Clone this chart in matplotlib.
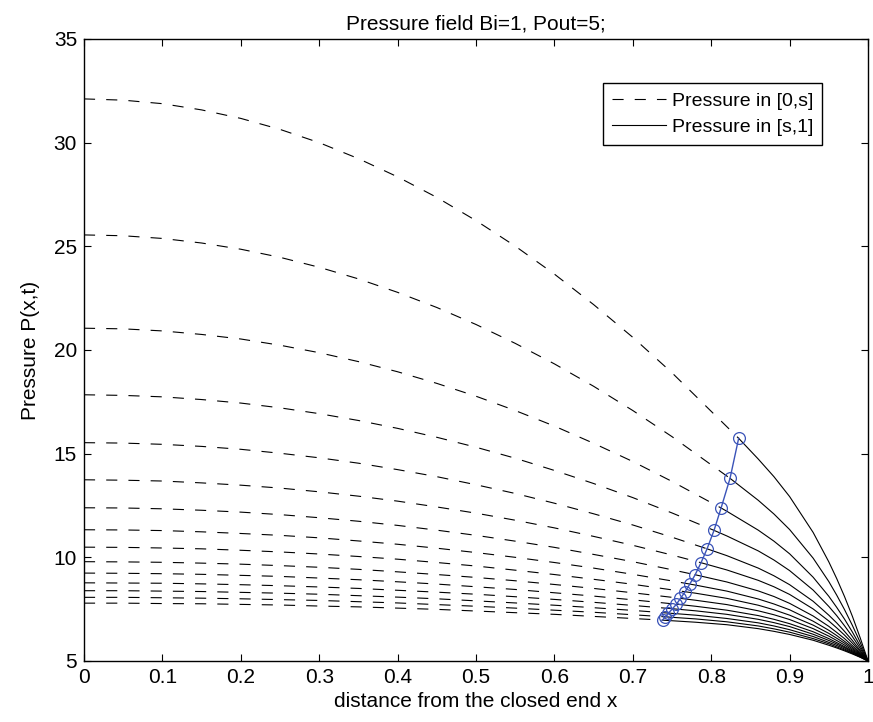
import matplotlib
matplotlib.use("Agg")
import matplotlib.pyplot as plt
import numpy as np

plt.rcParams['font.family'] = ['Liberation Sans', 'DejaVu Sans']
plt.rcParams['lines.scale_dashes'] = False

nan = np.nan

# dashed part, pressure in [0,s], read at fixed x
x_dash = [0.0, 0.05, 0.1, 0.15, 0.2, 0.25, 0.3, 0.35, 0.4, 0.45, 0.5, 0.55,
          0.6, 0.65, 0.7, 0.75]
p_dash = [
    [32.11, 32.05, 31.88, 31.58, 31.17, 30.64, 30.00, 29.23, 28.35, 27.36, 26.24, 25.01, 23.66, 22.19, 20.61, 18.90],
    [25.55, 25.51, 25.38, 25.16, 24.86, 24.47, 23.99, 23.43, 22.78, 22.05, 21.23, 20.32, 19.33, 18.25, 17.08, 15.82],
    [21.05, 21.02, 20.92, 20.75, 20.53, 20.23, 19.87, 19.44, 18.95, 18.39, 17.77, 17.08, 16.33, 15.50, 14.62, 13.66],
    [17.84, 17.81, 17.74, 17.61, 17.44, 17.21, 16.93, 16.60, 16.22, 15.79, 15.31, 14.78, 14.19, 13.56, 12.88, 12.14],
    [15.53, 15.51, 15.45, 15.35, 15.21, 15.02, 14.80, 14.54, 14.23, 13.89, 13.50, 13.08, 12.61, 12.10, 11.56, 10.97],
    [13.74, 13.72, 13.68, 13.59, 13.48, 13.34, 13.16, 12.95, 12.71, 12.43, 12.13, 11.79, 11.42, 11.01, 10.58, 10.11],
    [12.39, 12.38, 12.34, 12.27, 12.18, 12.06, 11.91, 11.74, 11.54, 11.31, 11.06, 10.78, 10.48, 10.14, 9.79, 9.40],
    [11.33, 11.32, 11.29, 11.23, 11.15, 11.06, 10.94, 10.79, 10.63, 10.44, 10.23, 10.00, 9.75, 9.48, 9.18, 8.86],
    [10.49, 10.48, 10.45, 10.41, 10.34, 10.26, 10.16, 10.04, 9.91, 9.75, 9.58, 9.38, 9.17, 8.94, 8.70, 8.43],
    [9.79, 9.78, 9.76, 9.72, 9.67, 9.60, 9.52, 9.42, 9.30, 9.17, 9.03, 8.87, 8.69, 8.50, 8.29, 8.07],
    [9.24, 9.23, 9.21, 9.18, 9.13, 9.08, 9.00, 8.92, 8.82, 8.71, 8.58, 8.45, 8.29, 8.13, 7.95, 7.76],
    [8.77, 8.76, 8.75, 8.72, 8.68, 8.63, 8.57, 8.50, 8.41, 8.32, 8.22, 8.10, 7.97, 7.83, 7.68, nan],
    [8.39, 8.39, 8.37, 8.35, 8.31, 8.27, 8.22, 8.15, 8.08, 8.00, 7.90, 7.80, 7.69, 7.57, 7.44, nan],
    [8.07, 8.07, 8.05, 8.03, 8.00, 7.96, 7.92, 7.86, 7.80, 7.72, 7.64, 7.55, 7.45, 7.35, 7.23, nan],
    [7.79, 7.79, 7.77, 7.76, 7.73, 7.70, 7.65, 7.61, 7.55, 7.49, 7.41, 7.33, 7.25, 7.15, 7.05, nan],
]

# front position s and pressure there (blue circles)
s_front = [0.835, 0.824, 0.8126, 0.8036, 0.7947, 0.787, 0.7795, 0.7727,
           0.7667, 0.7608, 0.7557, 0.7506, 0.7455, 0.7413, 0.7379]
p_front = [15.74, 13.81, 12.38, 11.30, 10.41, 9.74, 9.16, 8.71,
           8.34, 8.02, 7.74, 7.52, 7.31, 7.13, 6.97]

# solid part, pressure in [s,1]
x_solid = [0.78, 0.82, 0.86, 0.88, 0.90, 0.93, 0.95, 0.96, 0.97, 0.98, 0.99, 1.0]
p_solid = [
    [nan, nan, 14.74, 13.89, 12.93, 11.20, 9.78, 8.98, 8.11, 7.16, 6.12, 5.0],
    [nan, nan, 12.75, 12.09, 11.34, 9.96, 8.83, 8.18, 7.48, 6.72, 5.90, 5.0],
    [nan, 12.22, 11.31, 10.78, 10.17, 9.04, 8.12, 7.59, 7.02, 6.40, 5.73, 5.0],
    [nan, 11.03, 10.31, 9.87, 9.36, 8.42, 7.63, 7.19, 6.70, 6.18, 5.61, 5.0],
    [nan, 10.08, 9.48, 9.11, 8.68, 7.88, 7.21, 6.84, 6.43, 5.99, 5.51, 5.0],
    [nan, 9.39, 8.89, 8.58, 8.21, 7.51, 6.93, 6.60, 6.25, 5.86, 5.45, 5.0],
    [nan, 8.81, 8.38, 8.11, 7.78, 7.17, 6.67, 6.38, 6.08, 5.74, 5.39, 5.0],
    [8.66, 8.37, 7.99, 7.75, 7.47, 6.92, 6.48, 6.23, 5.95, 5.66, 5.34, 5.0],
    [8.27, 8.02, 7.69, 7.47, 7.21, 6.73, 6.33, 6.10, 5.86, 5.59, 5.31, 5.0],
    [7.93, 7.72, 7.42, 7.23, 7.00, 6.56, 6.20, 5.99, 5.77, 5.53, 5.28, 5.0],
    [7.64, 7.45, 7.19, 7.01, 6.80, 6.41, 6.08, 5.89, 5.69, 5.48, 5.25, 5.0],
    [7.42, 7.25, 7.01, 6.85, 6.66, 6.29, 5.99, 5.82, 5.64, 5.44, 5.23, 5.0],
    [7.21, 7.05, 6.84, 6.69, 6.51, 6.18, 5.90, 5.75, 5.58, 5.40, 5.21, 5.0],
    [7.03, 6.89, 6.69, 6.55, 6.39, 6.08, 5.83, 5.68, 5.53, 5.37, 5.19, 5.0],
    [6.87, 6.75, 6.56, 6.43, 6.28, 6.00, 5.76, 5.63, 5.49, 5.34, 5.18, 5.0],
]

fig = plt.figure(figsize=(8.73, 7.22), dpi=100)
ax = fig.add_axes([0.0962, 0.0845, 0.8981, 0.8615])

dash = (0, (8, 8))
for i in range(len(s_front)):
    xd = [x for x, p in zip(x_dash, p_dash[i]) if not np.isnan(p)] + [s_front[i]]
    pd_ = [p for p in p_dash[i] if not np.isnan(p)] + [p_front[i]]
    l1, = ax.plot(xd, pd_, color='black', lw=0.8, linestyle=dash)
    xs = [s_front[i]] + [x for x, p in zip(x_solid, p_solid[i]) if not np.isnan(p)]
    ps = [p_front[i]] + [p for p in p_solid[i] if not np.isnan(p)]
    l2, = ax.plot(xs, ps, color='black', lw=0.8)

ax.plot(s_front, p_front, color='#3a53b8', lw=1.0, marker='o', markersize=8.5,
        markerfacecolor='none', markeredgewidth=0.9)

ax.set_xlim(0, 1)
ax.set_ylim(5, 35)
ax.set_xticks(np.arange(0, 1.01, 0.1))
ax.set_xticklabels(['0', '0.1', '0.2', '0.3', '0.4', '0.5', '0.6', '0.7', '0.8', '0.9', '1'])
ax.set_yticks(range(5, 36, 5))
ax.tick_params(direction='in', length=5, width=0.8, top=True, right=True,
               labelsize=15, pad=5)
for sp in ax.spines.values():
    sp.set_linewidth(1.0)

ax.set_title('Pressure field Bi=1, Pout=5;', fontsize=15, pad=7)
ax.set_xlabel('distance from the closed end x', fontsize=15, labelpad=4)
ax.set_ylabel('Pressure P(x,t)', fontsize=15, labelpad=10)

leg = ax.legend([l1, l2], ['Pressure in [0,s]', 'Pressure in [s,1]'],
                loc='upper right', bbox_to_anchor=(0.9415, 0.9288),
                borderaxespad=0, fancybox=False, framealpha=1,
                edgecolor='black', fontsize=14, handlelength=2.8,
                handletextpad=0.3, borderpad=0.45, labelspacing=0.45)
leg.get_frame().set_linewidth(1.0)

fig.savefig('out.png', dpi=100)
